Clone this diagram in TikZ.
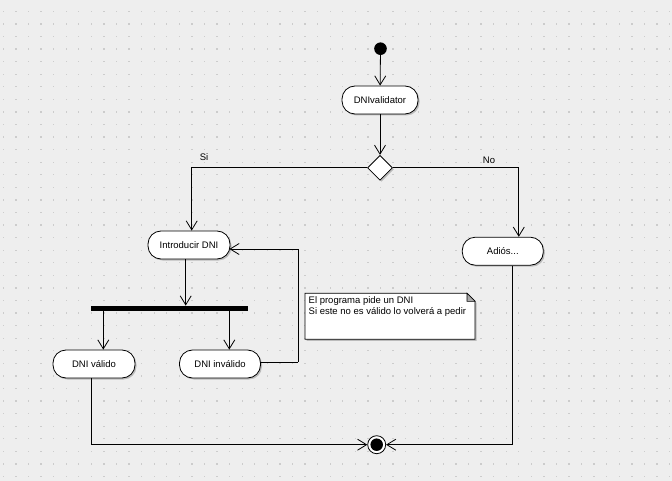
\documentclass[tikz,border=0pt]{standalone}
\usepackage{fontspec}
\setmainfont{Liberation Sans}
\usetikzlibrary{arrows.meta,shapes.geometric,shadows}
\definecolor{bg}{HTML}{EEEEEE}
\definecolor{griddot}{HTML}{CCCCCC}
\definecolor{shadowgray}{HTML}{9A9A9A}
\definecolor{foldgray}{HTML}{A8A8A8}
\begin{document}
\begin{tikzpicture}[x=1pt,y=-1pt,
  uml/.style={font=\fontsize{9.5}{11.6}\selectfont},
  act/.style={uml, draw=black, line width=0.8pt, fill=white, rectangle,
    rounded corners=13pt, minimum height=28pt, inner sep=0pt,
    drop shadow={shadow xshift=1.5pt, shadow yshift=-1.5pt, fill=shadowgray, opacity=0.6}},
  flow/.style={line width=0.8pt, -{Straight Barb[length=9pt,width=11pt,line width=0.8pt]}},
  plain/.style={line width=0.8pt},
  lbl/.style={uml, inner sep=0pt},
  startnode/.style={circle, fill=black, minimum size=12.6pt, inner sep=0pt},
  decision/.style={diamond, draw=black, fill=white, line width=0.8pt, minimum width=25pt,
    minimum height=25pt, inner sep=0pt,
    drop shadow={shadow xshift=1.5pt, shadow yshift=-1.5pt, fill=shadowgray, opacity=0.6}},
  forkbar/.style={rectangle, fill=black, minimum width=157pt, minimum height=5pt, inner sep=0pt},
  endouter/.style={circle, draw=black, fill=white, line width=0.8pt, minimum size=18pt, inner sep=0pt},
  endinner/.style={circle, fill=black, minimum size=12.5pt, inner sep=0pt}]

% background and grid
\fill[bg] (0,0) rectangle (672,481);
\useasboundingbox (0,0) rectangle (672,481);
\foreach \i in {0,...,53} {
  \foreach \j in {0,...,37} {
    \fill[griddot] ({3.3+12.57*\i-0.6},{11.3+12.57*\j-0.6}) rectangle ++(1.3,1.3);
  }
}

% nodes
\node[startnode] (start) at (380.5,48.7) {};
\node[act, minimum width=76pt] (val) at (380,100) {DNIvalidator};
\node[decision] (dec) at (380,167.8) {};
\node[act, minimum width=82pt] (intro) at (189,245) {Introducir DNI};
\node[act, minimum width=81pt] (adios) at (502.8,251.2) {Adiós...};
\node[forkbar] (bar) at (169.5,308.3) {};
\node[act, minimum width=82pt] (valido) at (94,364) {DNI válido};
\node[act, minimum width=81pt] (invalido) at (220,364) {DNI inválido};
\node[endouter] (end) at (376.7,444.7) {};
\node[endinner] (endin) at (end.center) {};

% note
\fill[shadowgray, opacity=0.6] (306.5,294.8) -- (468.5,294.8) -- (476.5,302.8) -- (476.5,340.8) -- (306.5,340.8) -- cycle;
\draw[fill=white, line width=0.8pt] (305,293.3) -- (467,293.3) -- (475,301.3) -- (475,339.3) -- (305,339.3) -- cycle;
\draw[fill=foldgray, line width=0.6pt] (467,293.3) -- (467,301.3) -- (475,301.3) -- cycle;
\node[lbl, anchor=north west, align=left] (note) at (308.5,296) {El programa pide un DNI\\Si este no es válido lo volverá a pedir};

% labels
\node[lbl] (si) at (204,157) {Si};
\node[lbl] (no) at (489,160.5) {No};

% connectors
\coordinate (introIn) at ([xshift=2.7pt]intro.north);
\coordinate (introOut) at ([xshift=-3.3pt]intro.south);
\coordinate (adiosIn) at ([xshift=16pt]adios.north);
\coordinate (adiosOut) at ([xshift=10pt]adios.south);
\coordinate (validoOut) at ([xshift=-2.3pt]valido.south);
\coordinate (barL) at (103.3,310.8);
\coordinate (barR) at (229.3,310.8);
\coordinate (loopR) at (298.3,362);
\coordinate (introR) at (intro.east |- 0,249);

\draw[flow] (start) -- (val);
\draw[flow] (val) -- (dec);
\draw[flow] (dec.west) -| (introIn);
\draw[flow] (dec.east) -| (adiosIn);
\draw[flow] (introOut) -- (introOut |- bar.north);
\draw[flow] (barL) -- (barL |- valido.north);
\draw[flow] (barR) -- (barR |- invalido.north);
\draw[plain] (invalido.east |- loopR) -- (loopR);
\draw[flow] (loopR) |- ([xshift=-1pt]introR);
\draw[flow] (validoOut) |- (end.west);
\draw[flow] (adiosOut) |- (end.east);
\end{tikzpicture}
\end{document}
